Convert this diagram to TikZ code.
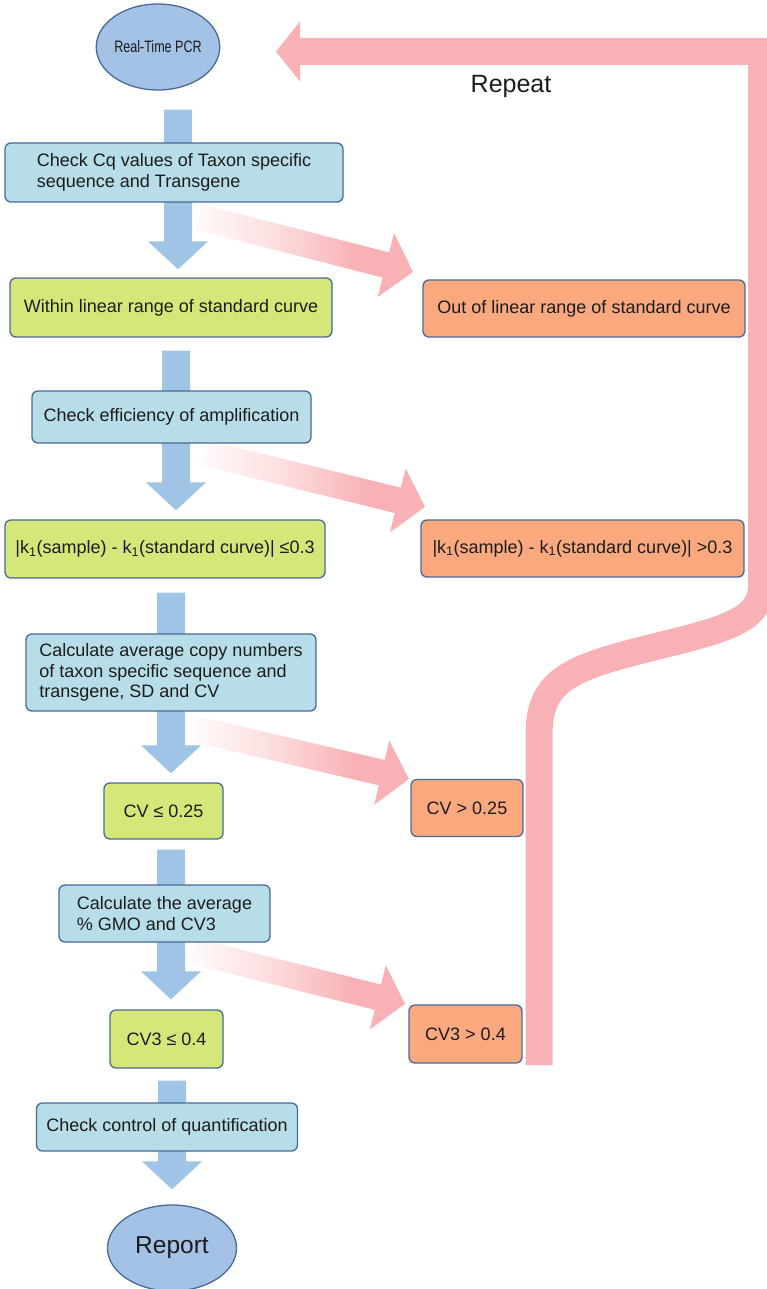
\documentclass[tikz,border=0pt]{standalone}
\usepackage{fontspec}
\setmainfont{Liberation Sans}
\newfontfamily\narrowsans[FakeStretch=0.76]{Liberation Sans}
\usetikzlibrary{calc,shapes.geometric}
\pgfdeclarelayer{background}
\pgfsetlayers{background,main}

\definecolor{flowblue}{RGB}{160,196,230}
\definecolor{procfill}{RGB}{183,222,232}
\definecolor{edgeblue}{RGB}{72,106,152}
\definecolor{passfill}{RGB}{214,231,122}
\definecolor{failfill}{RGB}{250,168,126}
\definecolor{startfill}{RGB}{163,194,230}
\definecolor{failpink}{RGB}{248,178,181}
\definecolor{inktext}{RGB}{28,28,28}
\colorlet{fadeA}{failpink!6}
\colorlet{fadeB}{failpink!40}

% pink fade along the "fail" arrows: almost white at the tail, full pink at the head
\pgfdeclarehorizontalshading{redfade}{100bp}{color(0bp)=(white); color(25bp)=(fadeA); color(42bp)=(fadeB); color(62bp)=(failpink); color(100bp)=(failpink)}

% wide blue downward arrow: x of the shaft, start node, gap below it, end node, gap above it
\newcommand\flowdown[5]{%
  \fill[flowblue] let \p1=(#2.south), \p2=(#4.north) in
    (#1pt-14pt,\y1-#3pt) -- (#1pt+14pt,\y1-#3pt) -- (#1pt+14pt,\y2+#5pt+28pt)
    -- (#1pt+30pt,\y2+#5pt+28pt) -- (#1pt,\y2+#5pt) -- (#1pt-30pt,\y2+#5pt+28pt)
    -- (#1pt-14pt,\y2+#5pt+28pt) -- cycle;}

% wide shaded arrow towards a rejected outcome: name, tail coordinate, tip coordinate
\newcommand\failflow[3]{%
  \coordinate (#1b) at ($(#3)!28pt!(#2)$);
  \shade[shading=redfade]
    ($(#2)!13pt!90:(#3)$) -- ($(#1b)!13pt!90:(#3)$) -- ($(#1b)!33pt!90:(#3)$) -- (#3)
    -- ($(#1b)!33pt!-90:(#3)$) -- ($(#1b)!13pt!-90:(#3)$) -- ($(#2)!13pt!-90:(#3)$) -- cycle;}

\begin{document}
\begin{tikzpicture}[x=1pt,y=-1pt,
  boxbase/.style={draw=edgeblue, line width=1.3pt, rounded corners=6pt, inner sep=0pt,
    text=inktext, font=\fontsize{18}{20.5}\selectfont},
  procbox/.style={boxbase, fill=procfill, align=left},
  passbox/.style={boxbase, fill=passfill, align=center},
  failbox/.style={boxbase, fill=failfill, align=center},
  terminal/.style={ellipse, draw=edgeblue, line width=1.3pt, fill=startfill, inner sep=0pt, text=inktext}]

\useasboundingbox (0,0) rectangle (767,1289);

% main flow
\node[terminal, minimum width=113pt, minimum height=86pt, font=\narrowsans\fontsize{16.5}{19}\selectfont] (pcr) at (158,47) {Real-Time PCR};
\node[procbox, minimum width=338pt, minimum height=59pt] (cq) at (174,172.5) {Check Cq values of Taxon specific\\sequence and Transgene};
\node[passbox, minimum width=322pt, minimum height=59pt] (lin) at (171,307.5) {Within linear range of standard curve};
\node[failbox, minimum width=322pt, minimum height=57pt] (nolin) at (584,308.5) {Out of linear range of standard curve};
\node[procbox, minimum width=279pt, minimum height=52pt] (eff) at (171.5,417) {Check efficiency of amplification};
\node[passbox, minimum width=320pt, minimum height=58pt] (kok) at (165,549) {|k\textsubscript{1}(sample) - k\textsubscript{1}(standard curve)| ≤0.3};
\node[failbox, minimum width=323pt, minimum height=57pt] (kbad) at (582.5,548.5) {|k\textsubscript{1}(sample) - k\textsubscript{1}(standard curve)| >0.3};
\node[procbox, minimum width=290pt, minimum height=77pt] (avg) at (171,672.5) {Calculate average copy numbers\\of taxon specific sequence and\\transgene, SD and CV};
\node[passbox, minimum width=119pt, minimum height=56pt] (cvok) at (163.5,811) {CV ≤ 0.25};
\node[failbox, minimum width=112pt, minimum height=57pt] (cvbad) at (467,808) {CV > 0.25};
\node[procbox, minimum width=211pt, minimum height=57pt] (gmo) at (164.5,913.5) {Calculate the average\\\% GMO and CV3};
\node[passbox, minimum width=113pt, minimum height=58pt] (cvthok) at (166.5,1039) {CV3 ≤ 0.4};
\node[failbox, minimum width=113pt, minimum height=58pt] (cvthbad) at (465.5,1034) {CV3 > 0.4};
\node[procbox, minimum width=261pt, minimum height=48pt] (ctrl) at (167,1127) {Check control of quantification};
\node[terminal, minimum width=129pt, minimum height=86pt, font=\fontsize{24.5}{28}\selectfont] (report) at (172,1248) {Report};

\node[text=inktext, font=\fontsize{25}{30}\selectfont] (repeat) at (511,86) {Repeat};

% ends of the shaded arrows and of the repeat loop
\coordinate (f1s) at (199,217);  \coordinate (f1t) at (413,272);
\coordinate (f2s) at (205,453);  \coordinate (f2t) at (425,507);
\coordinate (f3s) at (195,729);  \coordinate (f3t) at (409,779);
\coordinate (f4s) at (193,951);  \coordinate (f4t) at (405,1004);
\coordinate (loopfoot) at (539,1065);
\coordinate (looptip) at (276,51.5);

\begin{pgfonlayer}{background}
  % repeat loop back to the PCR run
  \draw[failpink, line width=27pt, line join=miter, line cap=butt]
    (loopfoot) -- (539,735) .. controls (539,680) and (570,668) .. (650,648)
    .. controls (722,630) and (761.5,622) .. (761.5,585) -- (761.5,51.5)
    -- ($(looptip)+(18,0)$);
  \fill[failpink] ($(looptip)+(24,-30)$) -- (looptip) -- ($(looptip)+(24,30)$) -- cycle;

  % rejected outcomes
  \failflow{fa}{f1s}{f1t}
  \failflow{fb}{f2s}{f2t}
  \failflow{fc}{f3s}{f3t}
  \failflow{fd}{f4s}{f4t}

  % accepted path
  \flowdown{178}{pcr}{19}{lin}{8}
  \flowdown{176}{lin}{13}{kok}{9}
  \flowdown{171}{kok}{14}{cvok}{9}
  \flowdown{171}{cvok}{10}{cvthok}{10}
  \flowdown{172}{cvthok}{12}{report}{15}
\end{pgfonlayer}
\end{tikzpicture}
\end{document}
